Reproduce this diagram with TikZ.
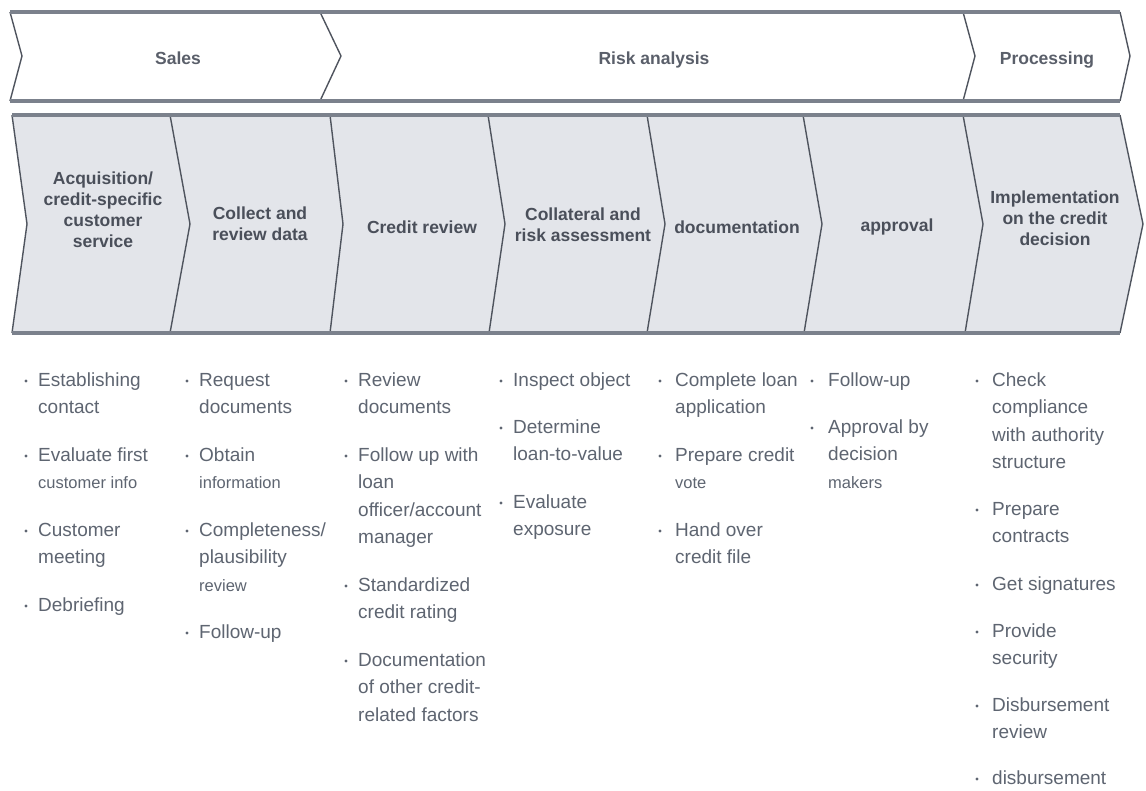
\documentclass[tikz,border=0pt]{standalone}
\usepackage{fontspec}
\setmainfont{Liberation Sans}
\definecolor{bandfill}{HTML}{E3E5EA}
\definecolor{bandline}{HTML}{7B818C}
\definecolor{sepline}{HTML}{4F545E}
\definecolor{headtext}{HTML}{4A4F5A}
\definecolor{phasetext}{HTML}{5A5F6A}
\definecolor{listtext}{HTML}{5E6571}
\tikzset{
  phase/.style={font=\fontsize{17.5}{21}\selectfont\bfseries, text=phasetext, inner sep=0},
  stage/.style={font=\fontsize{17.5}{21}\selectfont\bfseries, text=headtext, align=center, inner sep=0},
  btext/.style={font=\fontsize{19}{27.5}\selectfont, text=listtext, align=left, inner sep=0, anchor=north west},
  sepstroke/.style={draw=sepline, line width=1.4pt, line join=round},
  bandstroke/.style={draw=bandline, line width=3.5pt},
}
\newcommand\sm[1]{{\fontsize{16.5}{27.5}\selectfont #1}}
\newcommand\bitem[5]{%
  \fill[listtext] (#2,#4+1) circle (1.7pt);
  \node[btext] (#1) at (#3,#4+6-19.25) {\strut #5};
}
\begin{document}
\begin{tikzpicture}[x=1pt,y=-1pt]
\useasboundingbox (0,0) rectangle (1146,790);
\fill[white] (0,0) rectangle (1146,790);

% ---------- top band ----------
\fill[white] (10,12) -- (1120,12) -- (1130,56) -- (1120,101) -- (10,101) -- (22,56) -- cycle;
\draw[sepstroke] (10,12) -- (22,56) -- (10,101);
\draw[sepstroke] (320,12) -- (341,56) -- (320,101);
\draw[sepstroke] (963,12) -- (975,56) -- (963,101);
\draw[sepstroke] (1120,12) -- (1130,56) -- (1120,101);
\draw[bandstroke] (10,12) -- (1120,12);
\draw[bandstroke] (10,101) -- (1120,101);

\node[phase] (sales) at (178,58) {Sales};
\node[phase] (risk) at (654,60) {Risk analysis};
\node[phase] (proc) at (1047,60) {Processing};

% ---------- second band ----------
\fill[bandfill] (12,115) -- (1120,115) -- (1143,224) -- (1120,333) -- (12,333) -- (27,224) -- cycle;
\draw[sepstroke] (12,115) -- (27,224) -- (12,333);
\draw[sepstroke] (170,115) -- (190,224) -- (170,333);
\draw[sepstroke] (330,115) -- (343,224) -- (330,333);
\draw[sepstroke] (488,115) -- (505,224) -- (489,333);
\draw[sepstroke] (647,115) -- (665,224) -- (647,333);
\draw[sepstroke] (803,115) -- (822,224) -- (804,333);
\draw[sepstroke] (963,115) -- (983,224) -- (965,333);
\draw[sepstroke] (1120,115) -- (1143,224) -- (1120,333);
\draw[bandstroke] (12,115) -- (1120,115);
\draw[bandstroke] (12,333) -- (1120,333);

\node[stage] (s1) at (103,210) {Acquisition/\\credit-specific\\customer\\service};
\node[stage] (s2) at (260,224) {Collect and\\review data};
\node[stage] (s3) at (422,227) {Credit review};
\node[stage] (s4) at (583,225) {Collateral and\\risk assessment};
\node[stage] (s5) at (737,227) {documentation};
\node[stage] (s6) at (897,227) {approval};
\node[stage] (s7) at (1055,218) {Implementation\\on the credit\\decision};

% ---------- lists ----------
% column 1
\bitem{a1}{26}{38}{380}{Establishing\\contact}
\bitem{a2}{26}{38}{455}{Evaluate first\\\sm{customer info}}
\bitem{a3}{26}{38}{530}{Customer\\meeting}
\bitem{a4}{26}{38}{605}{Debriefing}
% column 2
\bitem{b1}{187}{199}{380}{Request\\documents}
\bitem{b2}{187}{199}{455}{Obtain\\\sm{information}}
\bitem{b3}{187}{199}{530}{Completeness/\\plausibility\\\sm{review}}
\bitem{b4}{187}{199}{632}{Follow-up}
% column 3
\bitem{c1}{346}{358}{380}{Review\\documents}
\bitem{c2}{346}{358}{455}{Follow up with\\loan\\officer/account\\manager}
\bitem{c3}{346}{358}{585}{Standardized\\credit rating}
\bitem{c4}{346}{358}{660}{Documentation\\of other credit-\\related factors}
% column 4
\bitem{d1}{501}{513}{380}{Inspect object}
\bitem{d2}{501}{513}{427}{Determine\\loan-to-value}
\bitem{d3}{501}{513}{502}{Evaluate\\exposure}
% column 5
\bitem{e1}{660}{675}{380}{Complete loan\\application}
\bitem{e2}{660}{675}{455}{Prepare credit\\\sm{vote}}
\bitem{e3}{660}{675}{530}{Hand over\\credit file}
% column 6
\bitem{f1}{812}{828}{380}{Follow-up}
\bitem{f2}{812}{828}{427}{Approval by\\decision\\\sm{makers}}
% column 7
\bitem{g1}{977}{992}{380}{Check\\compliance\\with authority\\structure}
\bitem{g2}{977}{992}{509}{Prepare\\contracts}
\bitem{g3}{977}{992}{584}{Get signatures}
\bitem{g4}{977}{992}{631}{Provide\\security}
\bitem{g5}{977}{992}{705}{Disbursement\\review}
\bitem{g6}{977}{992}{778}{disbursement}
\end{tikzpicture}
\end{document}
